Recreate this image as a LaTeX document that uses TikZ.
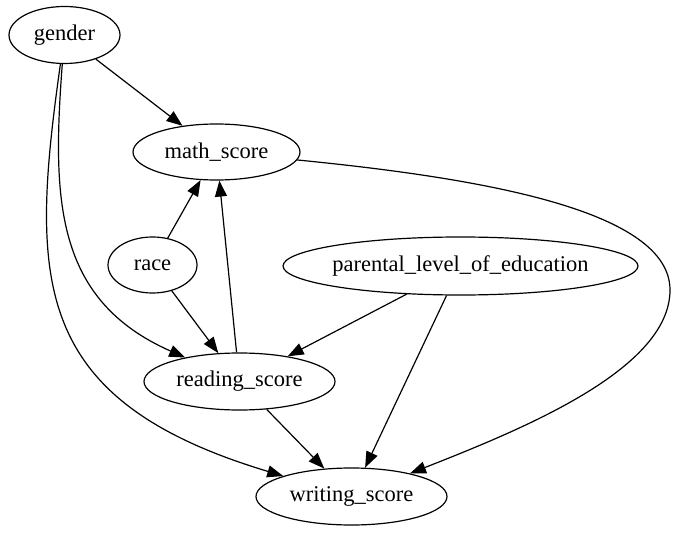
\documentclass[tikz,border=0pt]{standalone}
\usepackage{fontspec}
\setmainfont{Liberation Serif}
\usetikzlibrary{shapes.geometric,arrows.meta}
\newcommand{\zw}[1]{\makebox[0pt]{#1}}
\tikzset{
  var/.style={draw, ellipse, line width=1.2pt, inner sep=0pt, font=\fontsize{22.5}{26}\selectfont},
  edge/.style={line width=1.2pt, -{Triangle[length=16pt,width=12pt]}}
}
\begin{document}
\begin{tikzpicture}[x=1pt,y=-1pt]
\useasboundingbox (0,0) rectangle (690,537);
\node[var, minimum width=111pt, minimum height=57pt] (gender) at (64.5,35) {\zw{gender}};
\node[var, minimum width=167pt, minimum height=56pt] (math) at (216.5,152) {\zw{math\_score}};
\node[var, minimum width=89pt, minimum height=56pt] (race) at (152.5,265) {\zw{race}};
\node[var, minimum width=355pt, minimum height=58pt] (parent) at (460.5,266) {\zw{parental\_level\_of\_education}};
\node[var, minimum width=191pt, minimum height=57pt] (reading) at (239.5,381.5) {\zw{reading\_score}};
\node[var, minimum width=191pt, minimum height=57pt] (writing) at (351.5,496.5) {\zw{writing\_score}};

\draw[edge] (gender) -- (math);
\draw[edge] (gender) .. controls (52,200) and (55,300) .. (reading);
\draw[edge] (gender) .. controls (30,280) and (30,400) .. (writing);
\draw[edge] (math) .. controls (480,178) and (670,210) .. (670,290)
  .. controls (670,370) and (520,430) .. (writing);
\draw[edge] (race) -- (math);
\draw[edge] (race) -- (reading);
\draw[edge] (reading) -- (math);
\draw[edge] (parent) -- (reading);
\draw[edge] (parent) -- (writing);
\draw[edge] (reading) -- (writing);
\end{tikzpicture}
\end{document}
